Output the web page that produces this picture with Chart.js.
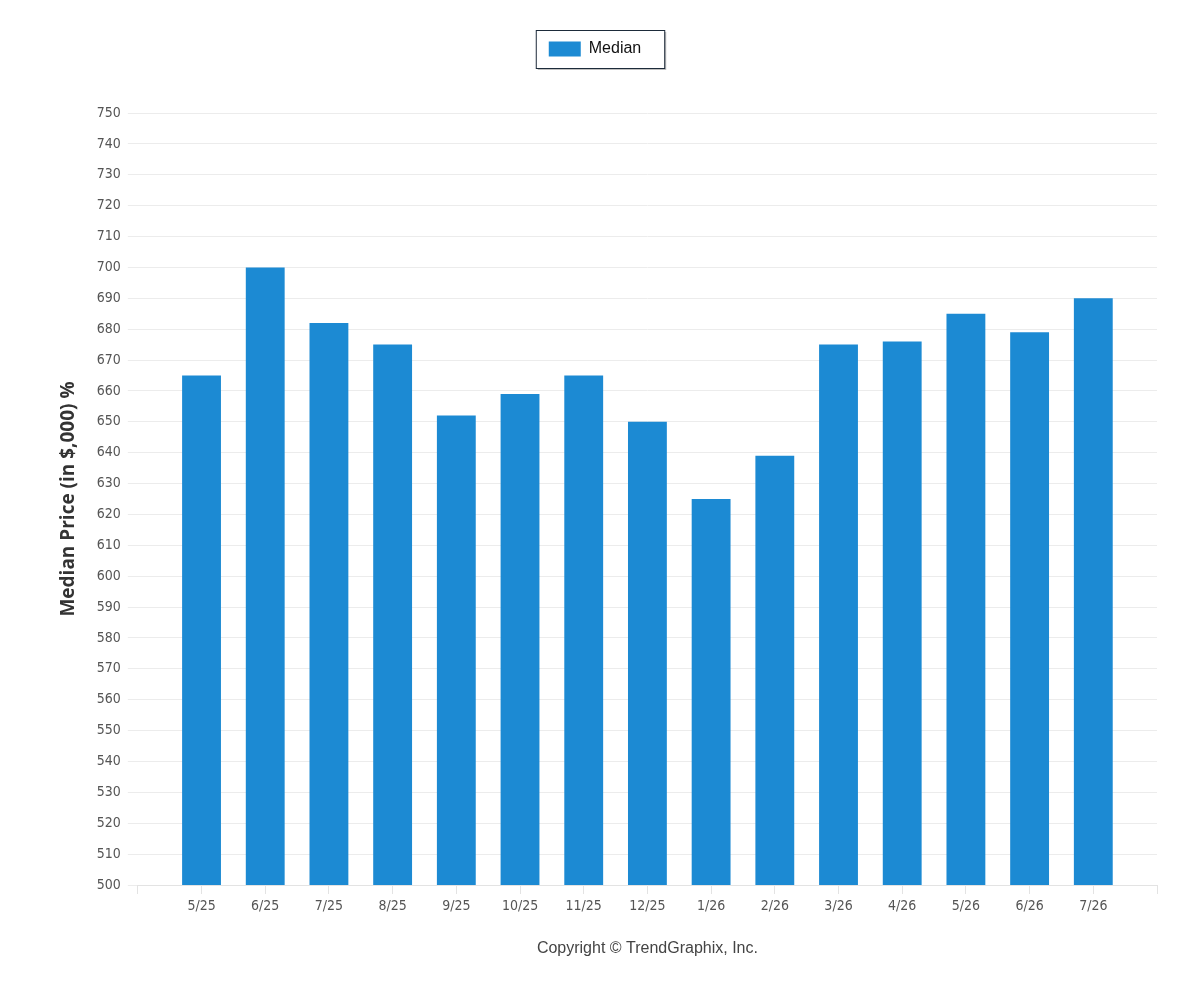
<!DOCTYPE html>
<html>
<head>
    <title>Median Price</title>
    <script src="https://cdn.jsdelivr.net/npm/chart.js"></script>
    <style>
        body { margin: 0; background: #fff; }
        #wrap { width: 1200px; height: 1000px; }
    </style>
</head>
<body>
    <div id="wrap"><canvas id="grafica"></canvas></div>

    <script>
        // categories (blank slots at both ends leave the empty tick positions)
        const meses = ['', '5/25', '6/25', '7/25', '8/25', '9/25', '10/25', '11/25', '12/25',
                       '1/26', '2/26', '3/26', '4/26', '5/26', '6/26', '7/26', ''];
        const mediana = [null, 665, 700, 682, 675, 652, 659, 665, 650,
                         625, 639, 675, 676, 685, 679, 690, null];
        const yMin = 500, yMax = 750, yPaso = 10;

        // caja con sombra alrededor de la leyenda + espacio debajo
        const cajaLeyenda = {
            id: 'cajaLeyenda',
            beforeInit(chart) {
                const fitOriginal = chart.legend.fit;
                chart.legend.fit = function () {
                    fitOriginal.bind(chart.legend)();
                    this.height += 46;
                };
            },
            afterLayout(chart) {
                // la leyenda queda centrada en el lienzo, no en el area
                const lg = chart.legend;
                lg.left -= 10;
                lg.right -= 10;
                lg.legendHitBoxes.forEach(hb => { hb.left -= 10; });
            },
            afterDraw(chart) {
                const lg = chart.legend;
                if (!lg || !lg.legendHitBoxes.length) return;
                const hb = lg.legendHitBoxes[0];
                const x = hb.left - 13, y = hb.top - 11;
                const w = hb.width + 36, h = hb.height + 22;
                const ctx = chart.ctx;
                ctx.save();
                ctx.fillStyle = 'rgba(0,0,0,0.25)';
                ctx.fillRect(x + 2, y + 2, w, h);
                ctx.fillStyle = '#fff';
                ctx.fillRect(x, y, w, h);
                ctx.strokeStyle = '#1d2b3a';
                ctx.lineWidth = 1;
                ctx.strokeRect(x + 0.5, y + 0.5, w, h);
                ctx.restore();
                lg.draw();
            }
        };

        const ctx = document.getElementById('grafica').getContext('2d');
        const chart = new Chart(ctx, {
            type: 'bar',
            data: {
                labels: meses,
                datasets: [{
                    label: 'Median',
                    data: mediana,
                    backgroundColor: '#1c8ad3',
                    borderWidth: 0,
                    barPercentage: 0.61,
                    categoryPercentage: 1.0
                }]
            },
            plugins: [cajaLeyenda],
            options: {
                responsive: true,
                maintainAspectRatio: false,
                animation: false,
                layout: { padding: { left: 53, right: 43, top: 31, bottom: 38 } },
                plugins: {
                    legend: {
                        position: 'top',
                        labels: {
                            boxWidth: 32,
                            boxHeight: 15,
                            color: '#111',
                            font: { family: 'Arial, "Liberation Sans"', size: 16 },
                            padding: 10
                        }
                    },
                    tooltip: { enabled: false }
                },
                scales: {
                    x: {
                        offset: false,
                        grid: {
                            offset: false,
                            drawOnChartArea: false,
                            color: '#e3e3e3',
                            tickLength: 9
                        },
                        border: { color: '#e3e3e3' },
                        ticks: {
                            color: '#555',
                            autoSkip: false,
                            maxRotation: 0,
                            font: { family: '"Liberation Sans Narrow", "DejaVu Sans Condensed", sans-serif', size: 14 },
                            padding: 4
                        },
                        title: {
                            display: true,
                            text: 'Copyright © TrendGraphix, Inc.',
                            color: '#444',
                            font: { family: 'Arial, "Liberation Sans"', size: 16 },
                            padding: { top: 20 }
                        }
                    },
                    y: {
                        min: yMin,
                        max: yMax,
                        grid: {
                            color: '#ececec',
                            tickLength: 10
                        },
                        border: { display: false },
                        ticks: {
                            stepSize: yPaso,
                            color: '#555',
                            font: { family: '"Liberation Sans Narrow", "DejaVu Sans Condensed", sans-serif', size: 14 },
                            padding: 7
                        },
                        title: {
                            display: true,
                            text: 'Median Price (in $,000) %',
                            color: '#333',
                            font: { family: '"Open Sans"', size: 19, weight: 'bold' },
                            padding: { bottom: 10 }
                        }
                    }
                }
            }
        });
    </script>
</body>
</html>
